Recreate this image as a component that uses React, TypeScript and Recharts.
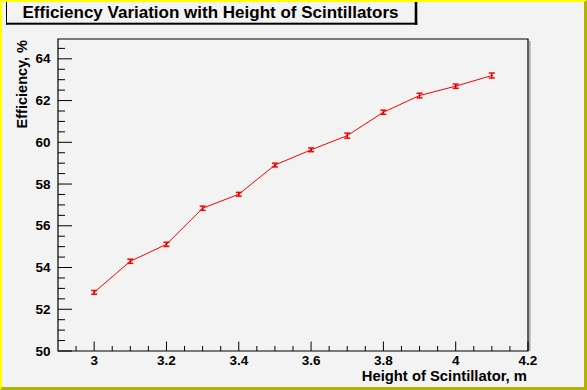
import React from 'react';
import { LineChart, Line, XAxis, YAxis, ErrorBar, ReferenceArea } from 'recharts';

// ---- data ----
const heights = [3.0, 3.1, 3.2, 3.3, 3.4, 3.5, 3.6, 3.7, 3.8, 3.9, 4.0, 4.1];
const efficiency = [52.81, 54.3, 55.11, 56.84, 57.51, 58.91, 59.64, 60.32, 61.44, 62.24, 62.69, 63.2];
const efficiencyErr = [0.09, 0.1, 0.1, 0.1, 0.09, 0.09, 0.09, 0.12, 0.1, 0.11, 0.1, 0.12];

const xMajorTicks = [3, 3.2, 3.4, 3.6, 3.8, 4, 4.2];
const xMinorTicks = [2.95, 3.05, 3.1, 3.15, 3.25, 3.3, 3.35, 3.45, 3.5, 3.55, 3.65, 3.7, 3.75, 3.85, 3.9, 3.95, 4.05, 4.1, 4.15];
const yMajorTicks = [50, 52, 54, 56, 58, 60, 62, 64];
const yMinorTicks = [50.5, 51, 51.5, 52.5, 53, 53.5, 54.5, 55, 55.5, 56.5, 57, 57.5, 58.5, 59, 59.5, 60.5, 61, 61.5, 62.5, 63, 63.5, 64.5];
const xDomain: [number, number] = [2.9, 4.2];
const yDomain: [number, number] = [50, 64.95];

const chartTitle = 'Efficiency Variation with Height of Scintillators';
const xTitle = 'Height of Scintillator, m';
const yTitle = 'Efficiency, %';

const data = heights.map((h, i) => ({ x: h, y: efficiency[i], err: efficiencyErr[i] }));
const xTicks = [...xMajorTicks, ...xMinorTicks].sort((a, b) => a - b);
const yTicks = [...yMajorTicks, ...yMinorTicks].sort((a, b) => a - b);

const FONT = '"Liberation Sans", Arial, Helvetica, sans-serif';
const BG = '#f3f3f3';

const XTick = (props: any) => {
  const { x, y, payload } = props;
  const v = payload.value;
  const major = xMajorTicks.includes(v);
  return (
    <g>
      <line x1={x} x2={x} y1={y} y2={y - (major ? 9.5 : 5)} stroke="#000" strokeWidth={1} />
      {major && (
        <text x={x} y={y + 13.5} textAnchor="middle" fontFamily={FONT} fontWeight="bold" fontSize={13.5} fill="#000">
          {String(v)}
        </text>
      )}
    </g>
  );
};

const YTick = (props: any) => {
  const { x, y, payload } = props;
  const v = payload.value;
  const major = yMajorTicks.includes(v);
  return (
    <g>
      <line x1={x} x2={x + (major ? 14 : 7)} y1={y} y2={y} stroke="#000" strokeWidth={1} />
      {major && (
        <text x={x - 7.5} y={y + 4.6} textAnchor="end" fontFamily={FONT} fontWeight="bold" fontSize={13.5} fill="#000">
          {String(v)}
        </text>
      )}
    </g>
  );
};

export default function App() {
  return (
    <div style={{ position: 'absolute', left: 0, top: 0, width: 587, height: 390, background: BG }}>
      <LineChart
        width={587}
        height={390}
        data={data}
        margin={{ top: 39, right: 59, bottom: 9, left: 0 }}
      >
        <XAxis
          dataKey="x"
          type="number"
          domain={xDomain}
          ticks={xTicks}
          interval={0}
          allowDataOverflow
          height={30}
          tickSize={0}
          tickMargin={0}
          axisLine={false}
          tickLine={false}
          tick={<XTick />}
          label={{
            content: () => (
              <text x={527} y={381} textAnchor="end" fontFamily={FONT} fontWeight="bold" fontSize={14.8} fill="#000">
                {xTitle}
              </text>
            ),
          }}
        />
        <YAxis
          type="number"
          domain={yDomain}
          ticks={yTicks}
          interval={0}
          allowDataOverflow
          width={58}
          tickSize={0}
          tickMargin={0}
          axisLine={false}
          tickLine={false}
          tick={<YTick />}
          label={{
            content: () => (
              <text
                transform="rotate(-90)"
                x={-40}
                y={26.5}
                textAnchor="end"
                fontFamily={FONT}
                fontWeight="bold"
                fontSize={14.5}
                fill="#000"
              >
                {yTitle}
              </text>
            ),
          }}
        />
        <ReferenceArea
          x1={xDomain[0]}
          x2={xDomain[1]}
          y1={yDomain[0]}
          y2={yDomain[1]}
          fill="none"
          fillOpacity={0}
          stroke="#000"
          strokeWidth={1.2}
          ifOverflow="visible"
        />
        <Line
          dataKey="y"
          type="linear"
          stroke="#ff0000"
          strokeWidth={1}
          dot={{ r: 0.6, fill: '#000', stroke: 'none' }}
          activeDot={false}
          isAnimationActive={false}
        >
          <ErrorBar dataKey="err" width={3} stroke="#ff0000" strokeWidth={1.5} direction="y" isAnimationActive={false} />
        </Line>
      </LineChart>
      <svg
        width={587}
        height={390}
        style={{ position: 'absolute', left: 0, top: 0, pointerEvents: 'none' }}
      >
        {/* canvas bevel border */}
        <polygon points="0,0 587,0 584,2 2,2 2,387 0,390" fill="#ffff00" />
        <polygon points="587,0 587,390 0,390 2,387 584,387 584,2" fill="#b2b200" />
        {/* frame shadow */}
        <rect x={529} y={41} width={1.5} height={310} fill="#a8a8a8" />
        {/* title pave */}
        <rect x={6} y={2} width={411} height={22.7} fill={BG} />
        <rect x={6} y={2} width={1} height={22.7} fill="#000" />
        <rect x={414.7} y={2} width={2.6} height={22.7} fill="#000" />
        <rect x={6} y={22.7} width={411.3} height={2} fill="#000" />
        <text x={210.5} y={18.3} textAnchor="middle" fontFamily={FONT} fontWeight="bold" fontSize={17} fill="#000">
          {chartTitle}
        </text>
      </svg>
    </div>
  );
}
